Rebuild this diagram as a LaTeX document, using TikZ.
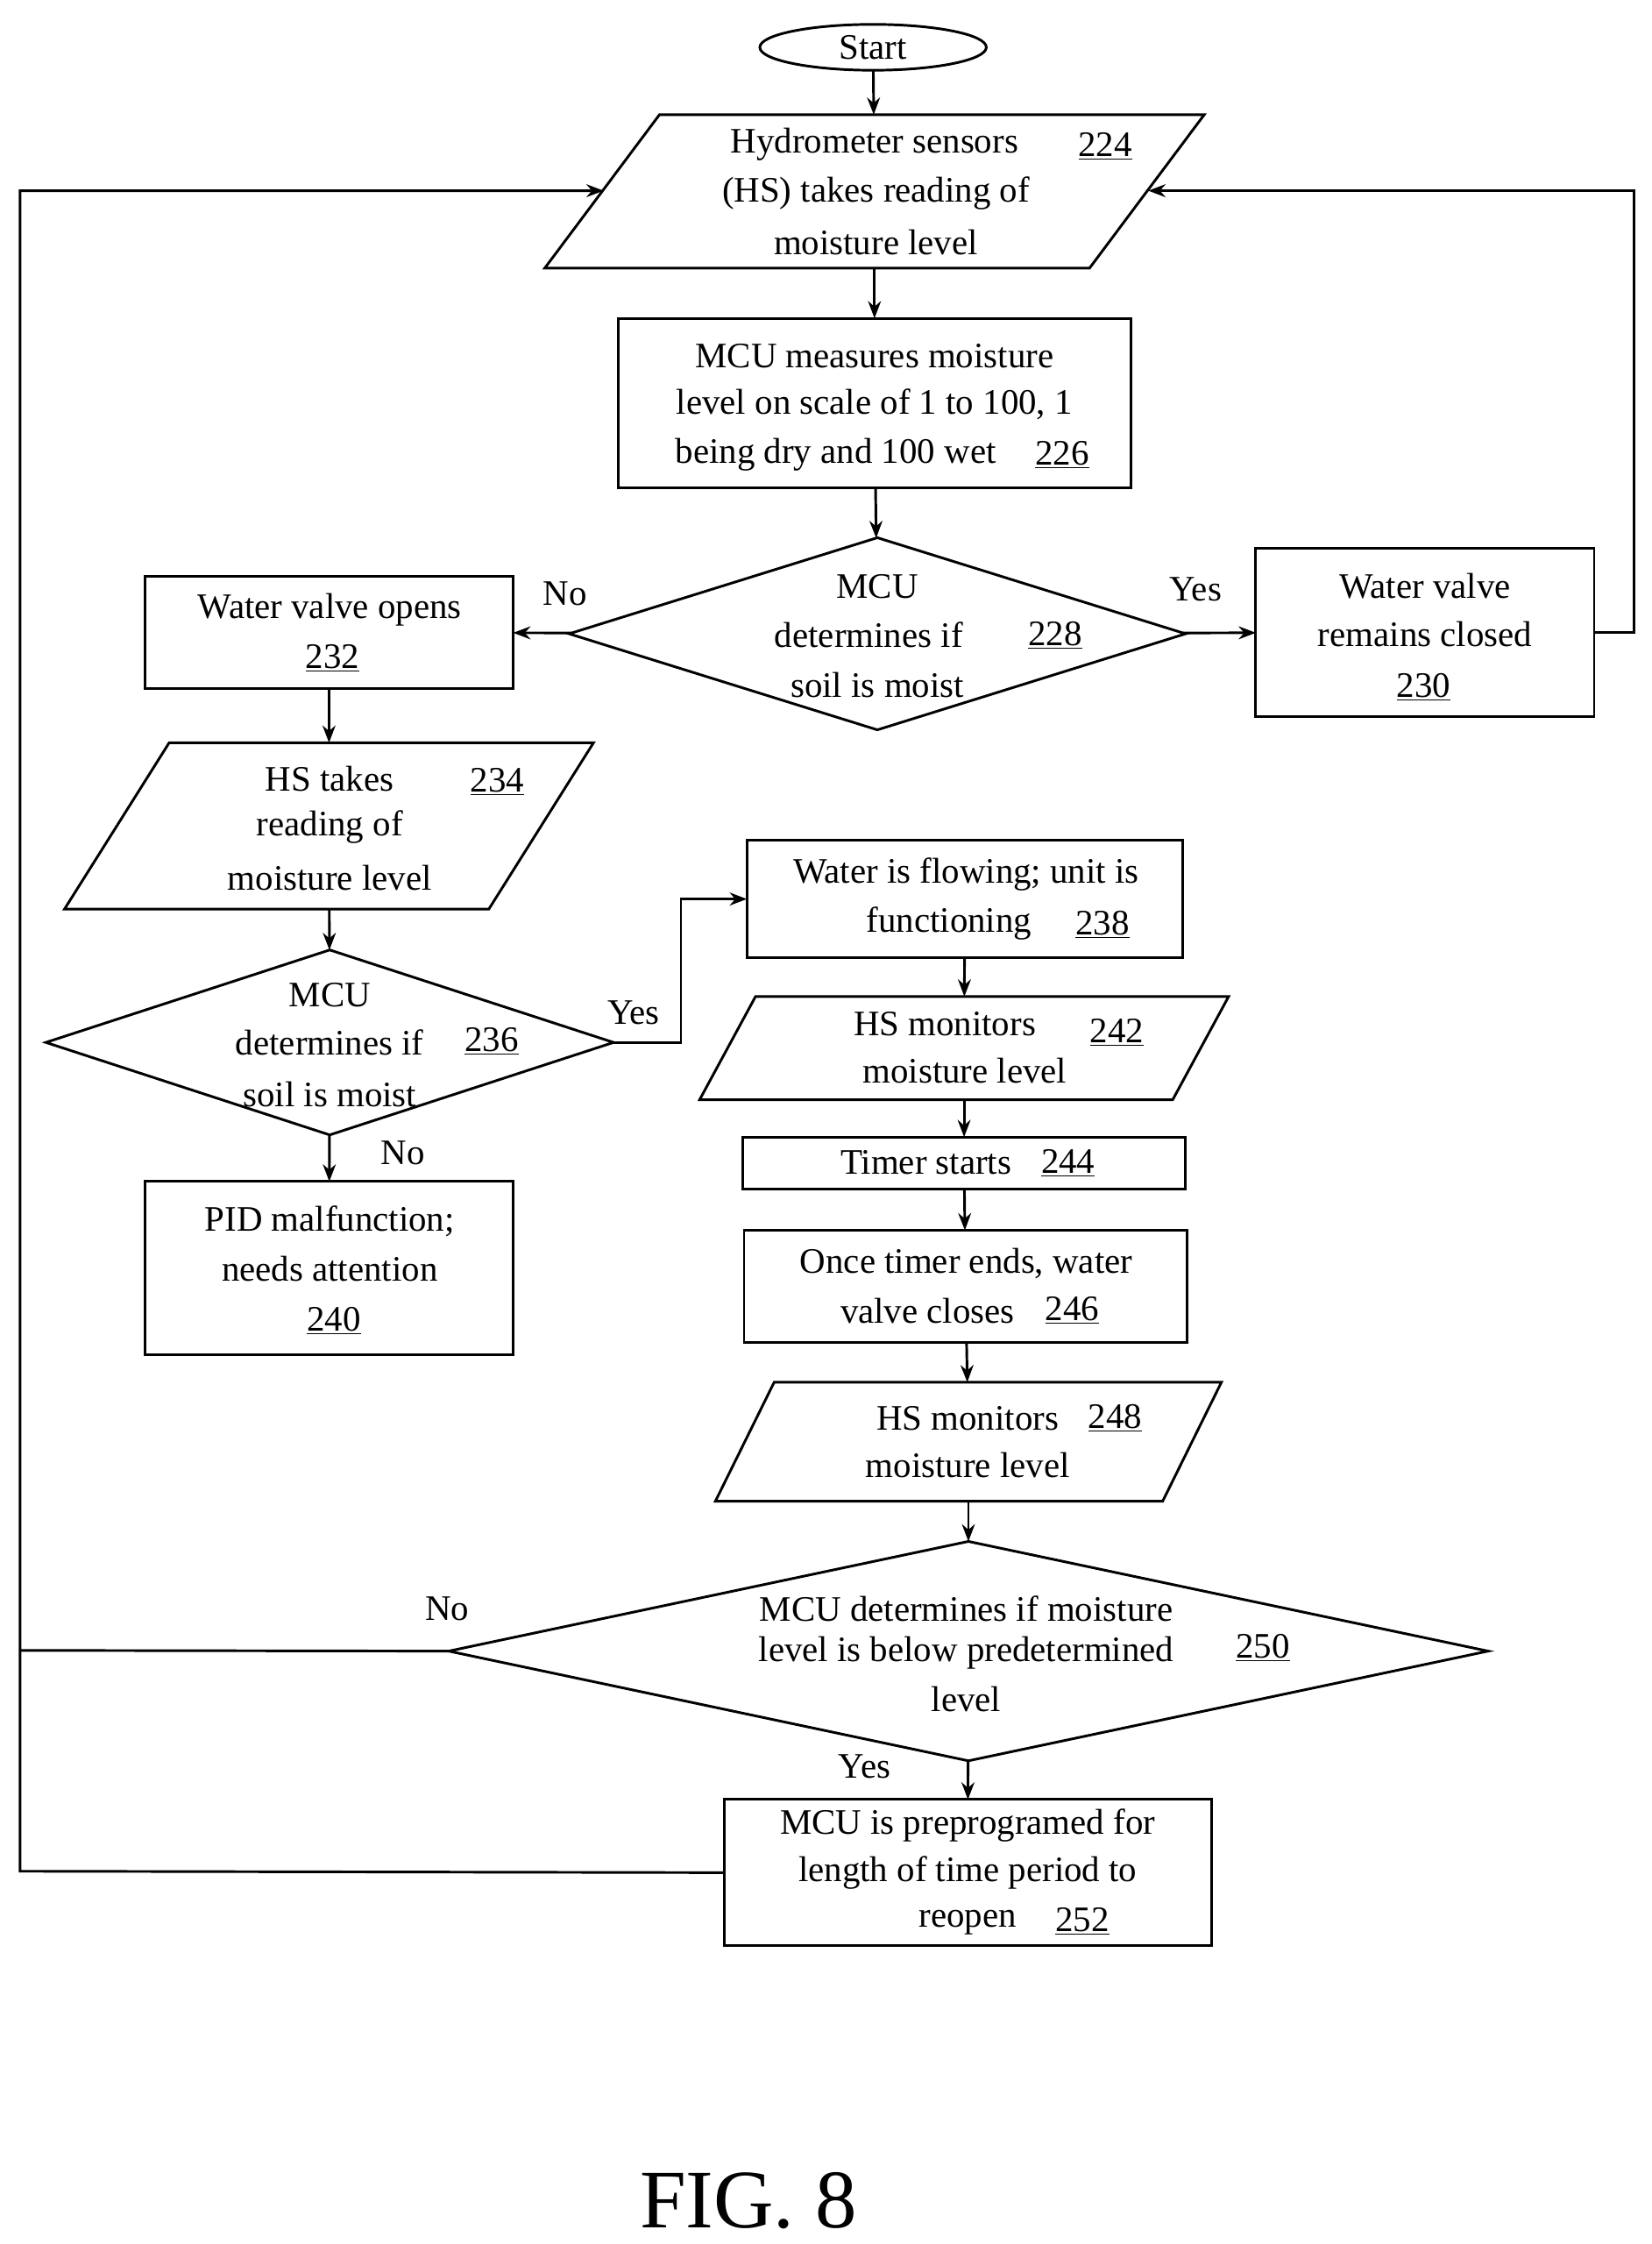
\documentclass[tikz,border=0pt]{standalone}
\usepackage{fontspec}
\setmainfont{Liberation Serif}
\usetikzlibrary{shapes.geometric,arrows.meta}
\begin{document}
\begin{tikzpicture}[x=1pt,y=-1pt,
 sh/.style={draw,line width=1.8pt,inner sep=0,outer sep=0},
 box/.style={sh,rectangle},
 dia/.style={sh,diamond,aspect=3.2},
 t/.style={font=\fontsize{25}{30}\selectfont,inner sep=0},
 ar/.style={line width=1.8pt,-{Stealth[length=12pt,width=9pt]}},
 ln/.style={line width=1.8pt,line join=miter}]
\useasboundingbox (0,0) rectangle (1152,1565);
\newcommand{\U}[1]{\underline{#1}}
\newcommand{\pgram}[6]{%
 \node[minimum width=#4,minimum height=#5,inner sep=0,outer sep=0] (#1) at (#2,#3) {};
 \draw[ln] ([xshift=-#6/2] #1.south west) -- ([xshift=-#6/2] #1.south east) -- ([xshift=#6/2] #1.north east) -- ([xshift=#6/2] #1.north west) -- cycle;}
% shapes
\node[sh,ellipse,minimum width=158,minimum height=32] (st) at (609,33) {};
\node[t] at (609,33) {Start};
\pgram{p224}{610}{133.5}{380}{107}{80}
\node[box,minimum width=358,minimum height=118] (b226) at (610,281) {};
\node[dia,minimum width=430,minimum height=134] (d228) at (612,442) {};
\node[box,minimum width=236,minimum height=117] (b230) at (994,441) {};
\node[box,minimum width=257,minimum height=78] (b232) at (229.5,441) {};
\pgram{p234}{229.5}{576}{296}{116}{73}
\node[dia,minimum width=396,minimum height=129] (d236) at (230,727) {};
\node[box,minimum width=257,minimum height=121] (b240) at (229.5,884.5) {};
\node[box,minimum width=304,minimum height=82] (b238) at (673,627) {};
\pgram{p242}{672.5}{731}{330}{72}{39}
\node[box,minimum width=309,minimum height=36] (b244) at (672.5,811) {};
\node[box,minimum width=309,minimum height=78] (b246) at (673.5,897) {};
\pgram{p248}{675.5}{1005.5}{312}{83}{41}
\node[dia,minimum width=725,minimum height=153] (d250) at (675.5,1151.5) {};
\node[box,minimum width=340,minimum height=102] (b252) at (675,1306) {};
% texts
\node[t] at (610,101) {Hydrometer sensors};
\node[t] at (611,135) {(HS) takes reading of};
\node[t] at (611,169) {moisture level};
\node[t] at (771,102) {\U{224}};
\node[t] at (610,248) {MCU measures moisture};
\node[t] at (610,282) {level on scale of 1 to 100, 1};
\node[t] at (583,317) {being dry and 100 wet};
\node[t] at (741,317) {\U{226}};
\node[t] at (612,409) {MCU};
\node[t] at (606,443) {determines if};
\node[t] at (612,478) {soil is moist};
\node[t] at (736,443) {\U{228}};
\node[t] at (994,409) {Water valve};
\node[t] at (994,442) {remains closed};
\node[t] at (993,479) {\U{230}};
\node[t] at (230,425) {Water valve opens};
\node[t] at (232,459) {\U{232}};
\node[t] at (230,543) {HS takes};
\node[t] at (230,577) {reading of};
\node[t] at (230,612) {moisture level};
\node[t] at (347,545) {\U{234}};
\node[t] at (230,694) {MCU};
\node[t] at (230,727) {determines if};
\node[t] at (230,763) {soil is moist};
\node[t] at (343,726) {\U{236}};
\node[t] at (230,852) {PID malfunction;};
\node[t] at (230,885) {needs attention};
\node[t] at (233,921) {\U{240}};
\node[t] at (674,610) {Water is flowing; unit is};
\node[t] at (662,644) {functioning};
\node[t] at (769,645) {\U{238}};
\node[t] at (659,714) {HS monitors};
\node[t] at (779,720) {\U{242}};
\node[t] at (673,747) {moisture level};
\node[t] at (646,811) {Timer starts};
\node[t] at (745,811) {\U{244}};
\node[t] at (674,881) {Once timer ends, water};
\node[t] at (647,914) {valve closes};
\node[t] at (748,914) {\U{246}};
\node[t] at (675,989) {HS monitors};
\node[t] at (778,989) {\U{248}};
\node[t] at (675,1022) {moisture level};
\node[t] at (674,1122) {MCU determines if moisture};
\node[t] at (674,1153) {level is below predetermined};
\node[t] at (674,1185) {level};
\node[t] at (881,1149) {\U{250}};
\node[t] at (675,1273) {MCU is preprogramed for};
\node[t] at (675,1306) {length of time period to};
\node[t] at (675,1341) {reopen};
\node[t] at (755,1340) {\U{252}};
\node[t] at (394,414) {No};
\node[t] at (834,411) {Yes};
\node[t] at (442,706) {Yes};
\node[t] at (281,804) {No};
\node[t] at (312,1122) {No};
\node[t] at (603,1232) {Yes};
\node[t,font=\fontsize{58}{60}\selectfont] (fig) at (522,1535) {FIG. 8};
% connectors
\coordinate (L1) at (14,1305); \coordinate (L2) at (14,133);
\coordinate (L3) at (14,1151);
\coordinate (R1) at (1140,441); \coordinate (R2) at (1140,133);
\coordinate (Y1) at (475,727); \coordinate (Y2) at (475,627);
\coordinate (pL) at (421,133); \coordinate (pR) at (801,133);
\draw[ar] (st) -- (p224);
\draw[ar] (p224) -- (b226);
\draw[ar] (b226) -- (d228);
\draw[ar] (d228) -- (b230);
\draw[ar] (d228) -- (b232);
\draw[ar] (b232) -- (p234);
\draw[ar] (p234) -- (d236);
\draw[ar] (d236) -- (b240);
\draw[ar] (d236.east) -- (Y1) -- (Y2) -- (b238.west);
\draw[ar] (b238) -- (p242);
\draw[ar] (p242) -- (b244);
\draw[ar] (b244) -- (b246);
\draw[ar] (b246) -- (p248);
\draw[ar] (p248) -- (d250);
\draw[ar] (d250) -- (b252);
\draw[ar] (b230.east) -- (R1) -- (R2) -- (pR);
\draw[ar] (b252.west) -- (L1) -- (L2) -- (pL);
\draw[ln] (d250.west) -- (L3);
\end{tikzpicture}
\end{document}
